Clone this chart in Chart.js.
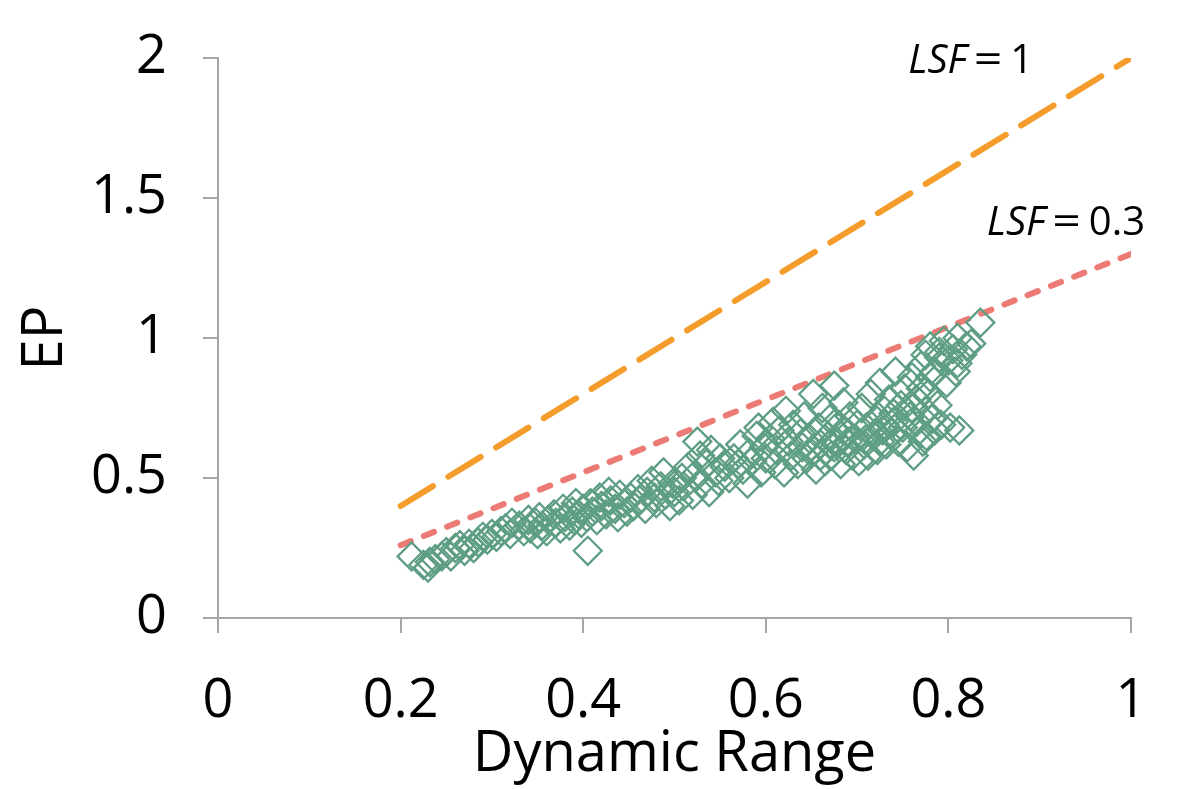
<!DOCTYPE html>
<html>
<head>
<meta charset="utf-8">
<script src="https://cdn.jsdelivr.net/npm/chart.js@4/dist/chart.umd.min.js"></script>
<style>
html,body{margin:0;padding:0;background:#fff;}
#wrap{width:1180px;height:789px;position:relative;}
</style>
</head>
<body>
<div id="wrap"><canvas id="c" width="1180" height="789"></canvas></div>
<script>
// ---- data ----
const xTickValues = [0, 0.2, 0.4, 0.6, 0.8, 1];
const yTickValues = [0, 0.5, 1, 1.5, 2];
const xTitle = "Dynamic Range";
const yTitle = "EP";

// scatter: dynamic range (x) and EP (y)
const drValues = [
 0.212,0.225,0.23,0.232,0.238,0.245,0.25,0.255,0.26,0.265,
 0.27,0.275,0.28,0.285,0.29,0.295,0.3,
 0.305,0.31,0.315,0.32,0.322,0.33,0.335,0.34,0.342,0.348,0.35,0.352,
 0.355,0.36,0.362,0.368,0.37,0.375,0.378,0.38,0.385,0.388,0.39,0.392,0.395,0.398,0.40,
 0.405,0.404,0.408,0.41,0.415,0.418,0.42,0.425,0.428,0.43,0.435,0.438,0.44,0.445,0.448,
 0.452,0.455,0.46,0.462,0.468,0.47,0.475,0.478,0.48,0.485,0.488,0.49,0.495,0.498,0.50,
 0.505,0.508,0.51,0.515,0.52,0.522,0.525,0.528,0.53,0.535,0.538,0.54,0.545,0.548,0.55,
 0.555,0.56,0.565,0.57,0.572,0.575,0.58,0.582,0.585,0.59,0.592,0.595,0.598,0.60,
 0.605,0.608,0.61,0.612,0.615,0.62,0.622,0.625,0.628,0.63,0.635,0.638,0.64,0.642,0.645,0.648,0.65,
 0.652,0.655,0.658,0.66,0.662,0.665,0.668,0.67,0.672,0.675,0.678,0.68,0.682,0.685,0.688,0.69,0.692,0.695,0.698,0.70,0.67,0.685,0.66,0.675,0.69,
 0.702,0.705,0.708,0.71,0.712,0.715,0.718,0.72,0.722,0.725,0.728,0.73,0.732,0.735,0.738,0.74,0.742,0.745,0.748,0.75,0.71,0.72,0.73,0.74,0.725,
 0.752,0.755,0.758,0.76,0.762,0.765,0.768,0.77,0.772,0.775,0.776,0.778,0.78,0.782,0.785,0.788,0.79,0.792,0.795,0.798,0.80,0.76,0.77,0.78,0.79,0.765,0.785,0.775,
 0.802,0.805,0.808,0.81,0.812,0.815,0.82,0.825,0.835,0.81
];
const epValues = [
 0.22,0.19,0.18,0.20,0.21,0.22,0.235,0.22,0.25,0.26,
 0.24,0.265,0.25,0.27,0.29,0.28,0.30,
 0.29,0.31,0.32,0.30,0.34,0.33,0.31,0.35,0.32,0.34,0.30,0.36,
 0.33,0.31,0.35,0.37,0.34,0.32,0.39,0.36,0.33,0.38,0.35,0.41,0.37,0.34,0.39,
 0.24,0.36,0.41,0.38,0.35,0.43,0.40,0.37,0.45,0.42,0.39,0.36,0.44,0.41,0.38,
 0.43,0.40,0.46,0.42,0.39,0.45,0.49,0.43,0.41,0.47,0.52,0.44,0.40,0.48,0.45,
 0.42,0.50,0.47,0.54,0.44,0.51,0.63,0.58,0.48,0.55,0.45,0.60,0.52,0.49,0.57,
 0.54,0.50,0.57,0.55,0.62,0.53,0.48,0.59,0.56,0.65,0.68,0.52,0.61,0.57,
 0.64,0.70,0.55,0.60,0.67,0.52,0.74,0.63,0.58,0.69,0.55,0.66,0.61,0.72,0.57,0.64,0.59,
 0.80,0.53,0.68,0.62,0.75,0.56,0.65,0.71,0.58,0.83,0.63,0.69,0.55,0.77,0.60,0.66,0.72,0.58,0.64,0.69,0.62,0.67,0.58,0.61,0.63,
 0.56,0.75,0.62,0.68,0.58,0.80,0.65,0.71,0.60,0.84,0.67,0.74,0.62,0.78,0.66,0.70,0.88,0.63,0.76,0.68,0.64,0.66,0.69,0.73,0.63,
 0.82,0.61,0.72,0.86,0.58,0.78,0.67,0.90,0.63,0.94,0.65,0.80,0.97,0.71,0.88,0.76,0.93,0.69,0.99,0.84,0.92,0.75,0.82,0.86,0.95,0.70,0.67,0.74,
 0.68,0.96,0.88,1.00,0.67,0.94,0.97,0.98,1.055,0.91
];

// reference lines
const lsf1X = [0.2, 1];
const lsf1Y = [0.4, 2];
const lsf03X = [0.2, 1];
const lsf03Y = [0.26, 1.3];
const lineLabels = ["1", "0.3"];

// ---- build ----
const scatterPts = drValues.map((x, i) => ({x: x, y: epValues[i]}));
const line1Pts = lsf1X.map((x, i) => ({x: x, y: lsf1Y[i]}));
const line03Pts = lsf03X.map((x, i) => ({x: x, y: lsf03Y[i]}));

const FONT = "'Open Sans', 'Noto Sans', sans-serif";
const AXIS = '#a6a6a6';

const labelPlugin = {
  id: 'lsfLabels',
  afterDatasetsDraw(chart) {
    const ctx = chart.ctx;
    const xs = chart.scales.x, ys = chart.scales.y;
    const items = [
      {x: 0.756, y: 1.948, v: lineLabels[0]},
      {x: 0.842, y: 1.368, v: lineLabels[1]}
    ];
    ctx.save();
    ctx.fillStyle = '#000';
    ctx.textBaseline = 'alphabetic';
    ctx.textAlign = 'left';
    items.forEach(it => {
      let px = xs.getPixelForValue(it.x);
      const py = ys.getPixelForValue(it.y);
      ctx.font = "italic 40px " + FONT;
      ctx.fillText("LSF", px, py);
      px += ctx.measureText("LSF").width + 7;
      ctx.font = "40px " + FONT;
      ctx.save();
      ctx.translate(px, py);
      ctx.scale(1.25, 1);
      ctx.fillText("=", 0, 0);
      ctx.restore();
      px += ctx.measureText("=").width * 1.25 + 8;
      ctx.fillText(it.v, px, py);
    });
    ctx.restore();
  }
};

new Chart(document.getElementById('c'), {
  type: 'scatter',
  data: {
    datasets: [
      {
        label: 'EP',
        data: scatterPts,
        pointStyle: 'rectRot',
        pointRadius: 14,
        pointBorderWidth: 2.3,
        pointBackgroundColor: 'rgba(0,0,0,0)',
        pointBorderColor: 'rgb(94,158,132)',
        showLine: false
      },
      {
        label: 'LSF = 0.3',
        data: line03Pts,
        showLine: true,
        pointRadius: 0,
        borderColor: '#ec7b75',
        borderWidth: 6,
        borderDash: [11, 14],
        borderCapStyle: 'round',
        fill: false
      },
      {
        label: 'LSF = 1',
        data: line1Pts,
        showLine: true,
        pointRadius: 0,
        borderColor: '#f49d2c',
        borderWidth: 6,
        borderDash: [38, 18],
        borderCapStyle: 'round',
        fill: false
      }
    ]
  },
  options: {
    responsive: false,
    animation: false,
    devicePixelRatio: 1,
    layout: {autoPadding: false, padding: {top: 58, right: 49, left: 0, bottom: 0}},
    plugins: {legend: {display: false}, tooltip: {enabled: false}},
    scales: {
      x: {
        type: 'linear',
        min: 0, max: 1,
        afterBuildTicks: s => { s.ticks = xTickValues.map(v => ({value: v})); },
        afterFit: s => { s.height = 171; s.paddingLeft = 0; s.paddingRight = 0; },
        ticks: {
          color: '#000',
          font: {family: FONT, size: 54},
          padding: 36,
          maxRotation: 0,
          callback: v => String(v)
        },
        grid: {drawOnChartArea: false, drawTicks: true, tickLength: 15, color: AXIS, lineWidth: 2},
        border: {color: AXIS, width: 2},
        title: {display: true, text: xTitle, color: '#000', font: {family: FONT, size: 56}, padding: {top: 0, bottom: 0}}
      },
      y: {
        type: 'linear',
        min: 0, max: 2,
        afterBuildTicks: s => { s.ticks = yTickValues.map(v => ({value: v})); },
        afterFit: s => { s.width = 218; s.paddingTop = 0; s.paddingBottom = 0; },
        ticks: {
          color: '#000',
          font: {family: FONT, size: 54},
          padding: 36,
          callback: v => String(v)
        },
        grid: {drawOnChartArea: false, drawTicks: true, tickLength: 15, color: AXIS, lineWidth: 2},
        border: {color: AXIS, width: 2},
        title: {display: true, text: yTitle, color: '#000', font: {family: FONT, size: 56}, padding: {top: 12, bottom: 0}}
      }
    }
  },
  plugins: [labelPlugin]
});
</script>
</body>
</html>
